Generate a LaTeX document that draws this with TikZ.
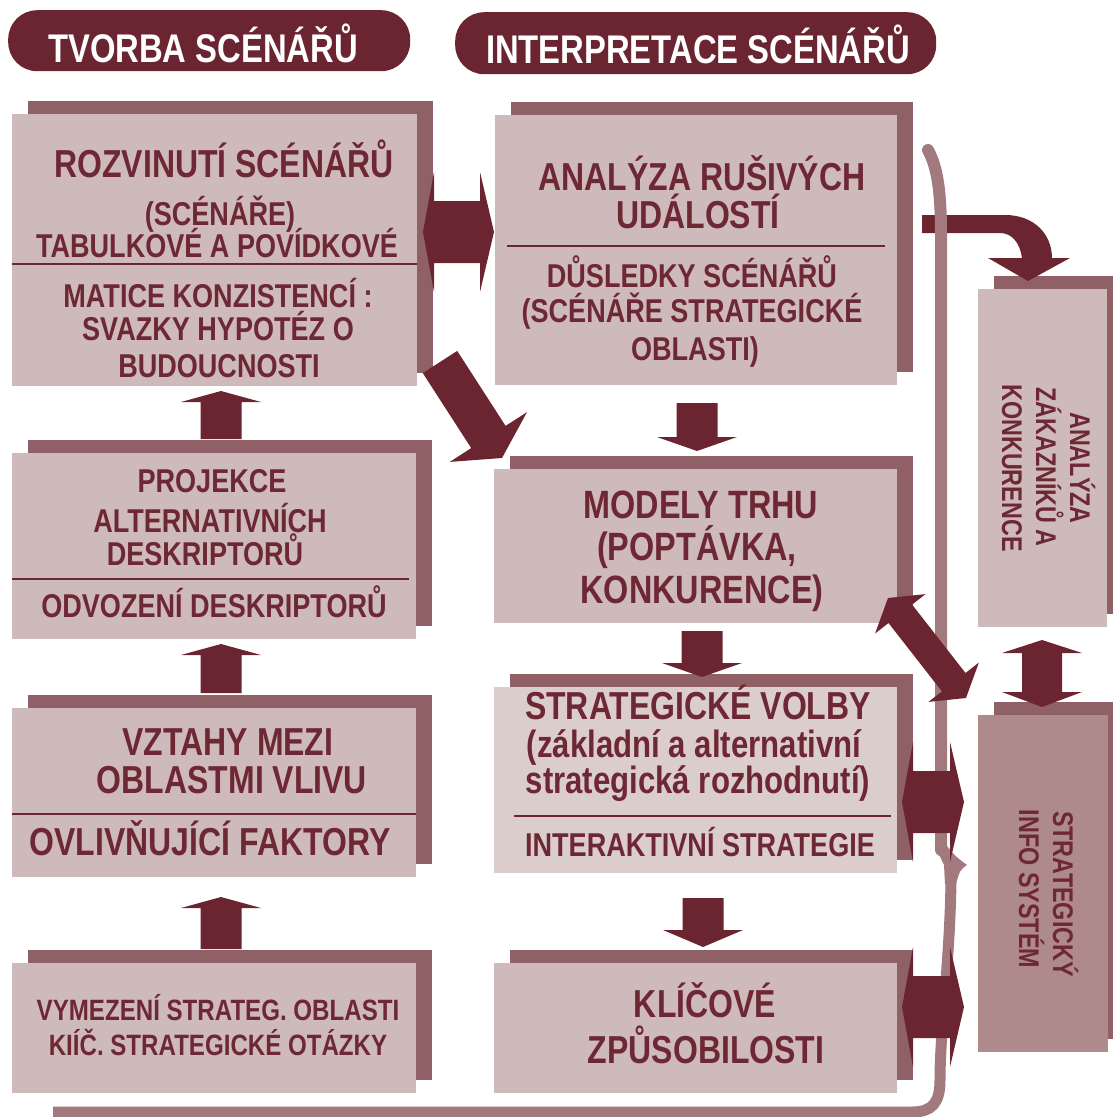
\documentclass[tikz,border=0pt]{standalone}
\usepackage{fontspec}
\newfontfamily\nb{Liberation Sans}[FakeStretch=0.82]
\usetikzlibrary{shadows}
\definecolor{maroon}{HTML}{6B2530}
\definecolor{textc}{HTML}{6E2834}
\definecolor{boxlight}{HTML}{CFBABB}
\definecolor{boxlighter}{HTML}{DCCDCD}
\definecolor{boxshadow}{HTML}{8F6065}
\definecolor{sysfill}{HTML}{AE8A8D}
\definecolor{bracec}{HTML}{A27A7E}
\newcommand\myfs[1]{\fontsize{#1}{#1}\selectfont}
\newcommand\vArrow[4]{\fill[arr] ({#1-20.5},#2) -- ({#1-20.5},#3) -- ({#1-40},#3) -- (#1,#4) -- ({#1+40},#3) -- ({#1+20.5},#3) -- ({#1+20.5},#2) -- cycle;}
\newcommand\hDArrow[3]{\fill[arr] (#1,#3) -- ({#1+11},{#3-60}) -- ({#1+11},{#3-31}) -- ({#2-14},{#3-31}) -- ({#2-14},{#3-60}) -- (#2,#3) -- ({#2-14},{#3+60}) -- ({#2-14},{#3+31}) -- ({#1+11},{#3+31}) -- ({#1+11},{#3+60}) -- cycle;}
\begin{document}
\begin{tikzpicture}[x=1pt,y=-1pt,
  box/.style={fill=boxlight, draw=none, inner sep=0pt, anchor=north west,
     general shadow={fill=boxshadow, shadow xshift=16pt, shadow yshift=13pt}},
  pill/.style={fill=maroon, draw=none, rounded corners=29pt, inner sep=0pt, anchor=north west},
  txt/.style={anchor=base, text=textc, inner sep=0pt, font={\nb\bfseries\myfs{#1}}},
  rtxt/.style={anchor=base, text=textc, inner sep=0pt, rotate=-90, font={\nb\bfseries\myfs{#1}}},
  divider/.style={draw=maroon, line width=2.2pt},
  arr/.style={fill=maroon},
  bracebar/.style={draw=bracec, line width=12pt}]
\useasboundingbox (0,0) rectangle (1112,1117);
% title pills
\node[pill, minimum width=402pt, minimum height=61pt] (P1) at (8,10) {};
\node[pill, minimum width=481pt, minimum height=62pt] (P2) at (455,12) {};
\node[txt=40, text=white] (P1t) at (203,62) {TVORBA SCÉNÁŘŮ};
\node[txt=40, text=white] (P2t) at (698,63) {INTERPRETACE SCÉNÁŘŮ};
% boxes
\node[box, minimum width=405pt, minimum height=272pt] (A) at (12,114) {};
\node[box, minimum width=402pt, minimum height=270pt] (B) at (495,115) {};
\node[box, minimum width=404pt, minimum height=186pt] (C) at (12,453) {};
\node[box, minimum width=403pt, minimum height=154pt] (D) at (494,469) {};
\node[box, minimum width=404pt, minimum height=169pt] (E) at (12,708) {};
\node[box, fill=boxlighter, minimum width=403pt, minimum height=186pt] (F) at (494,687) {};
\node[box, minimum width=404pt, minimum height=130pt] (G) at (12,963) {};
\node[box, minimum width=403pt, minimum height=130pt] (H) at (494,963) {};
\node[box, minimum width=129pt, minimum height=338pt] (I) at (978,289) {};
\node[box, fill=sysfill, minimum width=130pt, minimum height=337pt] (J) at (978,715) {};
% dividers
\draw[divider] (A.west |- 0,264) -- (A.east |- 0,264);
\draw[divider] (507,246) -- (885,246);
\draw[divider] (C.west |- 0,579) -- (409,579);
\draw[divider] (E.west |- 0,814) -- (E.east |- 0,814);
\draw[divider] (514,816) -- (891,816);
% texts A
\node[txt=39] (A1) at (224,177) {ROZVINUTÍ SCÉNÁŘŮ};
\node[txt=33] (A2) at (220,225) {(SCÉNÁŘE)};
\node[txt=33] (A3) at (217,257) {TABULKOVÉ A POVÍDKOVÉ};
\node[txt=33] (A4) at (218,307) {MATICE KONZISTENCÍ :};
\node[txt=33] (A5) at (218,340) {SVAZKY HYPOTÉZ O};
\node[txt=33] (A6) at (219,377) {BUDOUCNOSTI};
% texts B
\node[txt=39] (B1) at (702,190) {ANALÝZA RUŠIVÝCH};
\node[txt=39] (B2) at (698,228) {UDÁLOSTÍ};
\node[txt=33] (B3) at (692,287) {DŮSLEDKY SCÉNÁŘŮ};
\node[txt=33] (B4) at (692,322) {(SCÉNÁŘE STRATEGICKÉ};
\node[txt=33] (B5) at (695,360) {OBLASTI)};
% texts C
\node[txt=33] (C1) at (212,492) {PROJEKCE};
\node[txt=33] (C2) at (210,532) {ALTERNATIVNÍCH};
\node[txt=33] (C3) at (205,565) {DESKRIPTORŮ};
\node[txt=33] (C4) at (214,617) {ODVOZENÍ DESKRIPTORŮ};
% texts D
\node[txt=39.5] (D1) at (701,518) {MODELY TRHU};
\node[txt=39.5] (D2) at (697,560) {(POPTÁVKA,};
\node[txt=39.5] (D3) at (702,603) {KONKURENCE)};
% texts E
\node[txt=39] (E1) at (228,755) {VZTAHY MEZI};
\node[txt=39] (E2) at (232,793) {OBLASTMI VLIVU};
\node[txt=39] (E3) at (210,855) {OVLIVŇUJÍCÍ FAKTORY};
% texts F
\node[txt=39] (F1) at (698,719) {STRATEGICKÉ VOLBY};
\node[txt=38] (F2) at (694,757) {(základní a alternativní};
\node[txt=38] (F3) at (698,793) {strategická rozhodnutí)};
\node[txt=33] (F4) at (700,856) {INTERAKTIVNÍ STRATEGIE};
% texts G
\node[txt=29.4] (G1) at (218,1020) {VYMEZENÍ STRATEG. OBLASTI};
\node[txt=29.4] (G2) at (218,1055) {KIÍČ. STRATEGICKÉ OTÁZKY};
% texts H
\node[txt=39] (H1) at (705,1017) {KLÍČOVÉ};
\node[txt=39] (H2) at (706,1063) {ZPŮSOBILOSTI};
% texts I, J
\node[rtxt=28.5] (I1) at (1070,468) {ANALÝZA};
\node[rtxt=28.5] (I2) at (1036,467) {ZÁKAZNÍKŮ A};
\node[rtxt=28.5] (I3) at (1002,468) {KONKURENCE};
\node[rtxt=28.5] (J1) at (1053,894) {STRATEGICKÝ};
\node[rtxt=28.5] (J2) at (1019,889) {INFO SYSTÉM};
% curved arrow B -> I
\fill[arr] (922,215) -- (1005,215) .. controls (1035,215) and (1052,235) .. (1052,258) -- (1070,258) -- (1028,281) -- (988,258) -- (1022,258) .. controls (1020,243) and (1012,233) .. (1000,233) -- (922,233) -- cycle;
% brace and bottom bar
\draw[bracebar, line cap=round] (928,150) .. controls (938,168) and (941,195) .. (941,235) -- (941,850);
\fill[bracec] (935,846) -- (947,846) .. controls (955,856) .. (967,865) .. controls (960,870) .. (956,884) -- (945,884) -- (944,865) -- cycle;
\draw[bracebar, line width=11pt] (951,880) .. controls (950,960) and (940,1030) .. (940,1080) .. controls (940,1103) and (932,1112) .. (912,1112) -- (53,1112);
% vertical arrows
\vArrow{221}{439}{402}{391}
\vArrow{221}{693}{655}{644}
\vArrow{221}{949}{908}{897}
\vArrow{697}{403}{437}{451}
\vArrow{702}{631}{663}{677}
\vArrow{703}{898}{930}{947}
% double arrows
\hDArrow{423}{494}{232}
\hDArrow{902}{964}{802}
\hDArrow{902}{964}{1007}
\fill[arr] (1042,640) -- (1082,653) -- (1062,653) -- (1062,692) -- (1082,692) -- (1042,707) -- (1002,692) -- (1022,692) -- (1022,653) -- (1002,653) -- cycle;
% diagonal arrows
\fill[arr] (422.8,373.1) -- (457.2,350.9) -- (505.6,425.9) -- (527.0,412.1) -- (502,458) -- (449.8,461.9) -- (471.2,448.1) -- cycle;
\fill[arr] (888,598) -- (925.5,594.1) -- (912.1,604.6) -- (965.5,673.0) -- (978.9,662.5) -- (966,698) -- (928.5,701.9) -- (941.9,691.4) -- (888.5,623.0) -- (875.1,633.5) -- cycle;
\end{tikzpicture}
\end{document}
